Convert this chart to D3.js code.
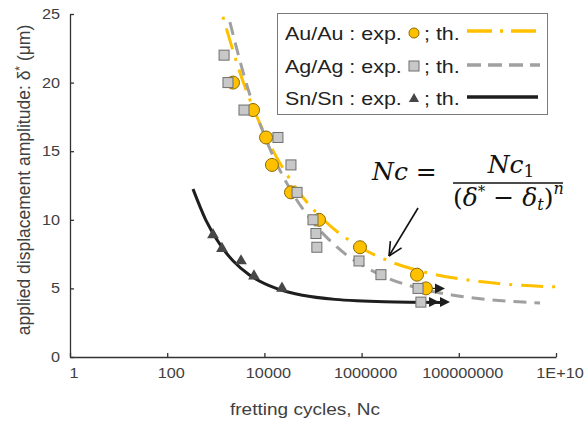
<!DOCTYPE html>
<html lang="en">
<head>
<meta charset="utf-8">
<title>Fretting cycles</title>
<script src="https://cdn.jsdelivr.net/npm/d3@7/dist/d3.min.js"></script>
<style>
  html, body { margin: 0; padding: 0; background: #fff; }
  svg { display: block; }
</style>
</head>
<body>
<script>
// experimental points (cycles, amplitude in um)
var auN = [2260, 5830, 10800, 14300, 35200, 133000, 927000, 1.38e7, 2.1e7];
var auD = [20, 18, 16, 14, 12, 10, 8, 6, 5];
var agN = [1480, 1780, 3800, 19000, 35200, 47000, 100000, 115000, 120000, 885000, 2.5e6, 1.45e7, 1.66e7];
var agD = [22, 20, 18, 16, 14, 12, 10, 9, 8, 7, 6, 5, 4];
var snN = [876, 1340, 3300, 6100, 23000];
var snD = [8.9, 7.9, 7.0, 5.9, 5.0];

// theoretical curves
var auThN = [1400, 3700, 11000, 52000, 165000, 930000, 3.6e6, 3.4e7, 2.7e8, 1e9, 1.2e10];
var auThD = [24.8, 20, 16, 12, 10, 8, 7, 6, 5.5, 5.3, 5.1];
var agThN = [1950, 4200, 10400, 37000, 91000, 314000, 2.4e6, 1.55e7, 7.7e7, 3.7e8, 2.1e9, 4.7e9];
var agThD = [24.4, 20, 16, 12, 10, 8, 6, 5, 4.5, 4.2, 4.0, 3.94];
var snThN = [340, 620, 1330, 2280, 4850, 17500, 61000, 284000, 790000, 2.95e6, 5e7];
var snThD = [12.24, 10, 8, 7, 6, 5, 4.5, 4.2, 4.1, 4.03, 3.98];

// run-out arrows (no failure)
var runN = [4.1e7, 3.1e7, 5.2e7];
var runD = [5, 4, 4];
var runFromN = 2.1e7; // Au point the first arrow leaves from

// axis ticks
var xTicks = [1, 100, 10000, 1000000, 100000000, 1e10];
var xTickLabels = ["1", "100", "10000", "1000000", "100000000", "1E+10"];
var yTicks = [0, 5, 10, 15, 20, 25];

// annotation arrow towards the curves: [start, tip]
var noteN = [1.45e7, 3.66e6];
var noteD = [10.86, 7.36];

var W = 584, H = 425;
var font = "'Liberation Sans', Arial, sans-serif";
var SX = 1.12;

var svg = d3.select("body").append("svg")
    .attr("width", W)
    .attr("height", H);

var x = d3.scaleLog().domain([1, 1e10]).range([70, 556]);
var y = d3.scaleLinear().domain([0, 25]).range([357, 14]);

function zip(a, b) {
  return a.map(function(v, i){ return {n: v, d: b[i]}; });
}

// axes
var gx = svg.append("g").attr("transform", "translate(0,357)")
    .call(d3.axisBottom(x).tickValues(xTicks).tickSizeInner(-4).tickSizeOuter(0).tickFormat(""));
var gy = svg.append("g").attr("transform", "translate(70,0)")
    .call(d3.axisLeft(y).tickValues(yTicks).tickSizeInner(-4).tickSizeOuter(0).tickFormat(""));
svg.selectAll(".domain, .tick line").attr("stroke", "#333").attr("stroke-width", 1.3);

xTicks.forEach(function(t, i){
  svg.append("text")
    .attr("transform", "translate(" + (x(t) + 4) + ",378) scale(" + SX + ",1)")
    .attr("text-anchor", "middle")
    .attr("font-family", font).attr("font-size", 14.5).attr("fill", "#404040")
    .text(xTickLabels[i]);
});
yTicks.forEach(function(t){
  svg.append("text")
    .attr("transform", "translate(60," + (y(t) + 5) + ") scale(" + SX + ",1)")
    .attr("text-anchor", "end")
    .attr("font-family", font).attr("font-size", 14.5).attr("fill", "#404040")
    .text(t);
});

svg.append("text")
  .attr("transform", "translate(305,415) scale(" + SX + ",1)")
  .attr("text-anchor", "middle")
  .attr("font-family", font).attr("font-size", 17).attr("fill", "#404040")
  .text("fretting cycles, Nc");

var yt = svg.append("text")
  .attr("transform", "translate(30,180) rotate(-90)")
  .attr("text-anchor", "middle")
  .attr("font-family", font).attr("font-size", 17.5).attr("fill", "#404040");
yt.append("tspan").text("applied displacement amplitude: \u03b4");
yt.append("tspan").attr("dy", -6).attr("font-size", 12).text("*");
yt.append("tspan").attr("dy", 6).text(" (\u03bcm)");

// theoretical curves
var line = d3.line()
    .x(function(d){ return x(d.n); })
    .y(function(d){ return y(d.d); })
    .curve(d3.curveMonotoneX);

svg.append("path").datum(zip(auThN, auThD))
  .attr("d", line).attr("fill", "none")
  .attr("stroke", "#FFC000").attr("stroke-width", 3)
  .attr("stroke-dasharray", "3,9,22,9");
svg.append("path").datum(zip(agThN, agThD))
  .attr("d", line).attr("fill", "none")
  .attr("stroke", "#A0A0A0").attr("stroke-width", 3)
  .attr("stroke-dasharray", "13,8");
svg.append("path").datum(zip(snThN, snThD))
  .attr("d", line).attr("fill", "none")
  .attr("stroke", "#1e1e1e").attr("stroke-width", 3);

// run-out line for the Au point
svg.append("line")
  .attr("x1", x(runFromN)).attr("y1", y(runD[0]))
  .attr("x2", x(runN[0])).attr("y2", y(runD[0]))
  .attr("stroke", "#222").attr("stroke-width", 1.2);

// experimental markers
svg.selectAll("circle.au").data(zip(auN, auD)).enter().append("circle")
  .attr("class", "au")
  .attr("cx", function(d){ return x(d.n); })
  .attr("cy", function(d){ return y(d.d); })
  .attr("r", 6.5)
  .attr("fill", "#FFC000").attr("stroke", "#8a6a00").attr("stroke-width", 1);

svg.selectAll("rect.ag").data(zip(agN, agD)).enter().append("rect")
  .attr("class", "ag")
  .attr("x", function(d){ return x(d.n) - 5; })
  .attr("y", function(d){ return y(d.d) - 5; })
  .attr("width", 10).attr("height", 10)
  .attr("fill", "#C8C8C8").attr("stroke", "#6e6e6e").attr("stroke-width", 1);

var tri = d3.symbol().type(d3.symbolTriangle).size(60);
svg.selectAll("path.sn").data(zip(snN, snD)).enter().append("path")
  .attr("class", "sn")
  .attr("d", tri)
  .attr("transform", function(d){ return "translate(" + x(d.n) + "," + y(d.d) + ")"; })
  .attr("fill", "#474747");

svg.selectAll("path.run").data(zip(runN, runD)).enter().append("path")
  .attr("class", "run")
  .attr("d", "M-5,-5L5,0L-5,5Z")
  .attr("transform", function(d){ return "translate(" + x(d.n) + "," + y(d.d) + ")"; })
  .attr("fill", "#1e1e1e");

// annotation arrow
var ax0 = x(noteN[0]), ay0 = y(noteD[0]), ax1 = x(noteN[1]), ay1 = y(noteD[1]);
svg.append("line").attr("x1", ax0).attr("y1", ay0).attr("x2", ax1).attr("y2", ay1)
  .attr("stroke", "#111").attr("stroke-width", 1.6);
var ang = Math.atan2(ay0 - ay1, ax0 - ax1);
[-0.45, 0.45].forEach(function(o){
  svg.append("line").attr("x1", ax1).attr("y1", ay1)
    .attr("x2", ax1 + 15 * Math.cos(ang + o)).attr("y2", ay1 + 15 * Math.sin(ang + o))
    .attr("stroke", "#111").attr("stroke-width", 1.6);
});

// formula
var mf = "'DejaVu Serif', 'Liberation Serif', serif";
var f1 = svg.append("text").attr("x", 372).attr("y", 180)
  .attr("font-family", mf).attr("font-size", 25).attr("fill", "#111");
f1.append("tspan").attr("font-style", "italic").text("Nc");
f1.append("tspan").text(" =");

var f2 = svg.append("text").attr("x", 511).attr("y", 173).attr("text-anchor", "middle")
  .attr("font-family", mf).attr("font-size", 25).attr("fill", "#111");
f2.append("tspan").attr("font-style", "italic").text("Nc");
f2.append("tspan").attr("font-size", 17).attr("dy", 4).text("1");

svg.append("line").attr("x1", 453).attr("x2", 563).attr("y1", 183).attr("y2", 183)
  .attr("stroke", "#111").attr("stroke-width", 1.3);

var f3 = svg.append("text").attr("x", 453).attr("y", 206)
  .attr("font-family", mf).attr("font-size", 25).attr("fill", "#111");
f3.append("tspan").text("(");
f3.append("tspan").attr("font-style", "italic").text("\u03b4");
f3.append("tspan").attr("font-size", 15).attr("dy", -10).text("*");
f3.append("tspan").attr("dy", 10).text(" \u2212 ");
f3.append("tspan").attr("font-style", "italic").text("\u03b4");
f3.append("tspan").attr("font-style", "italic").attr("font-size", 16).attr("dy", 4).text("t");
f3.append("tspan").attr("dy", -4).text(")");
f3.append("tspan").attr("font-style", "italic").attr("font-size", 16).attr("dy", -12).text("n");

// legend
var lg = svg.append("g");
lg.append("rect").attr("x", 277.5).attr("y", 13.5).attr("width", 270).attr("height", 101)
  .attr("fill", "#fff").attr("stroke", "#7a7a7a").attr("stroke-width", 1);

var rows = [
  {label: "Au/Au : exp.", cy: 33},
  {label: "Ag/Ag : exp.", cy: 66},
  {label: "Sn/Sn : exp.", cy: 98}
];
rows.forEach(function(r){
  lg.append("text").attr("transform", "translate(285," + (r.cy + 6.5) + ") scale(1.16,1)")
    .attr("font-family", font).attr("font-size", 18.5).attr("fill", "#222").text(r.label);
  lg.append("text").attr("transform", "translate(424," + (r.cy + 6.5) + ") scale(1.16,1)")
    .attr("font-family", font).attr("font-size", 18.5).attr("fill", "#222").text("; th.");
});
lg.append("circle").attr("cx", 414).attr("cy", 33).attr("r", 5)
  .attr("fill", "#FFC000").attr("stroke", "#8a6a00");
lg.append("rect").attr("x", 409).attr("y", 61).attr("width", 10).attr("height", 10)
  .attr("fill", "#C8C8C8").attr("stroke", "#6e6e6e");
lg.append("path").attr("d", d3.symbol().type(d3.symbolTriangle).size(45))
  .attr("transform", "translate(414,99)").attr("fill", "#474747");

lg.append("line").attr("x1", 467).attr("x2", 538).attr("y1", 31).attr("y2", 31)
  .attr("stroke", "#FFC000").attr("stroke-width", 3.5).attr("stroke-dasharray", "25,8,3,8");
lg.append("line").attr("x1", 467).attr("x2", 540).attr("y1", 65).attr("y2", 65)
  .attr("stroke", "#A0A0A0").attr("stroke-width", 3.5).attr("stroke-dasharray", "14,7");
lg.append("line").attr("x1", 467).attr("x2", 538).attr("y1", 97).attr("y2", 97)
  .attr("stroke", "#1e1e1e").attr("stroke-width", 3.5);
</script>
</body>
</html>
